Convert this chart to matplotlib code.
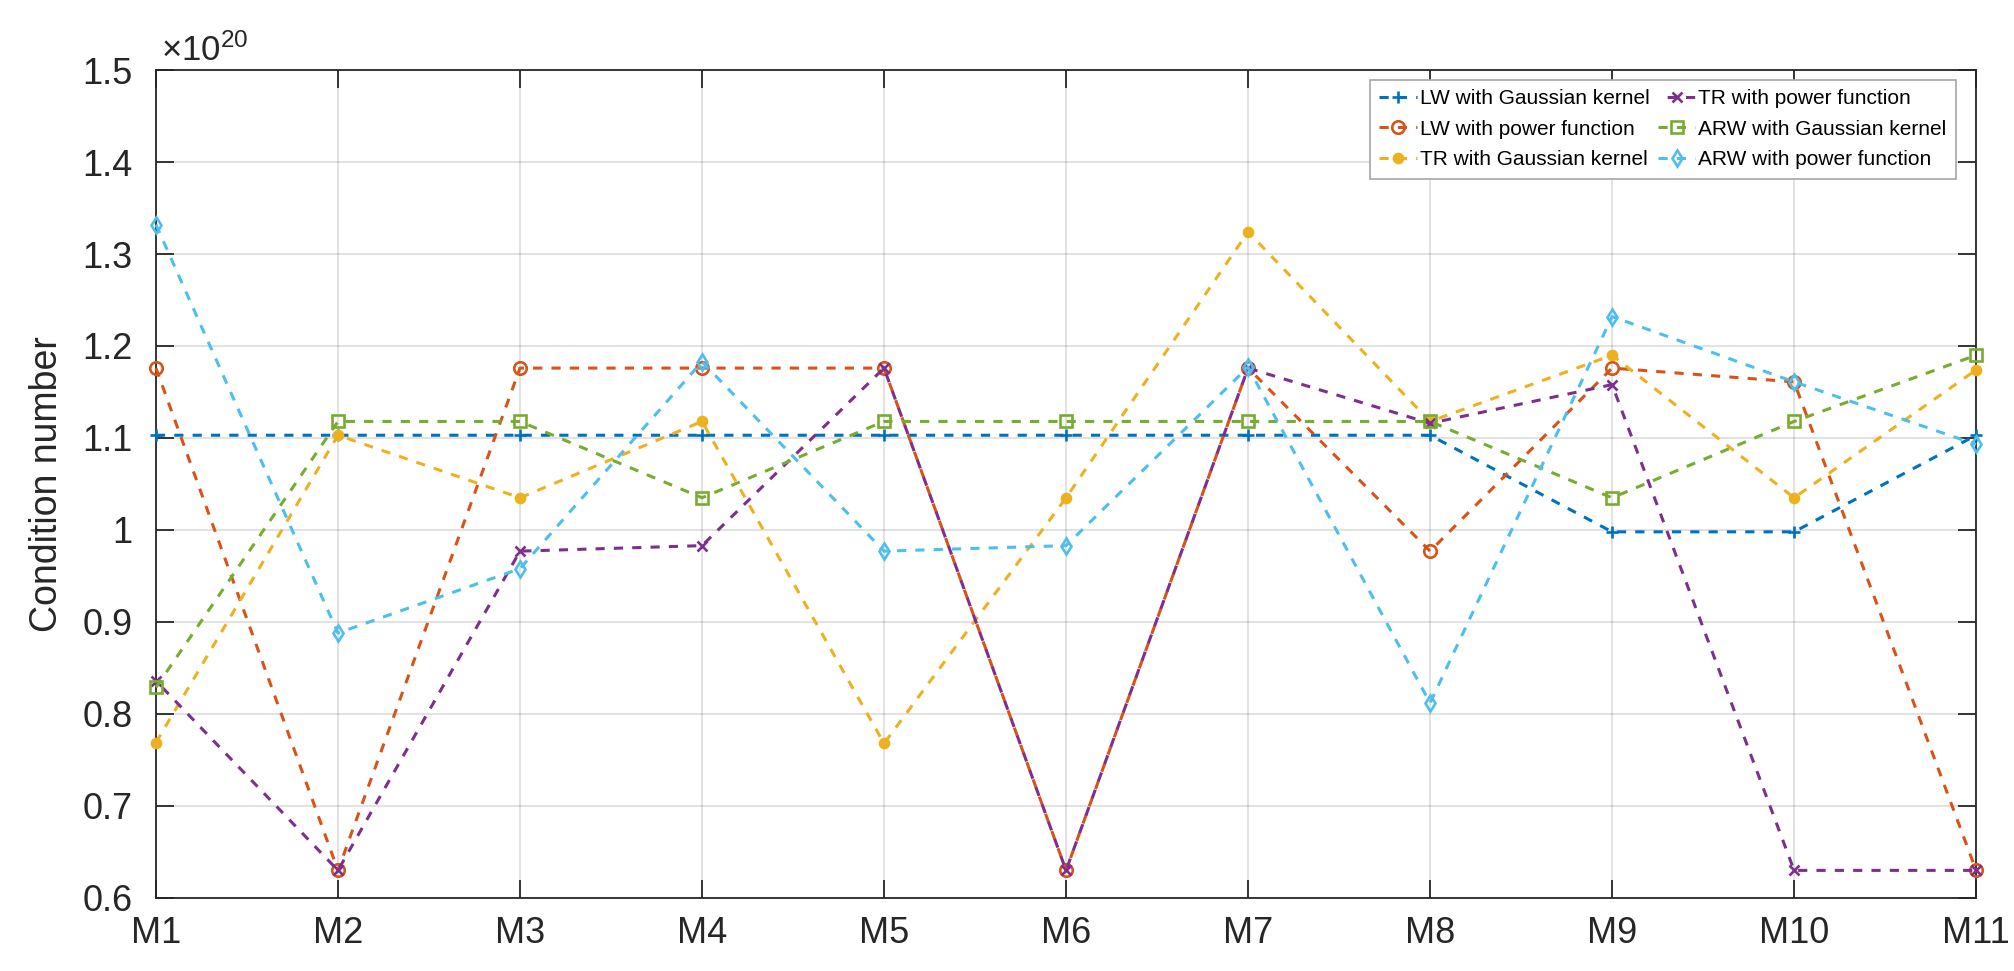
import matplotlib
matplotlib.use("Agg")
import matplotlib.pyplot as plt
import numpy as np

# ---------------- data (values in units of 1e20) ----------------
categories = ["M1", "M2", "M3", "M4", "M5", "M6", "M7", "M8", "M9", "M10", "M11"]
scale_exponent = 20
lw_gaussian = [1.103, 1.103, 1.103, 1.103, 1.103, 1.103, 1.103, 1.103, 0.998, 0.998, 1.103]
lw_power = [1.176, 0.630, 1.176, 1.176, 1.176, 0.630, 1.176, 0.977, 1.176, 1.161, 0.630]
tr_gaussian = [0.769, 1.103, 1.035, 1.118, 0.768, 1.035, 1.324, 1.118, 1.190, 1.035, 1.174]
tr_power = [0.836, 0.630, 0.977, 0.983, 1.176, 0.630, 1.176, 1.116, 1.158, 0.630, 0.630]
arw_gaussian = [0.829, 1.118, 1.118, 1.035, 1.118, 1.118, 1.118, 1.118, 1.035, 1.118, 1.190]
arw_power = [1.332, 0.888, 0.958, 1.183, 0.977, 0.983, 1.177, 0.812, 1.232, 1.161, 1.093]
series_labels = ["LW with Gaussian kernel", "LW with power function",
                 "TR with Gaussian kernel", "TR with power function",
                 "ARW with Gaussian kernel", "ARW with power function"]
y_ticks = [0.6, 0.7, 0.8, 0.9, 1.0, 1.1, 1.2, 1.3, 1.4, 1.5]
y_label = "Condition number"

# ---------------- style ----------------
plt.rcParams['font.family'] = ['Liberation Sans', 'DejaVu Sans']
plt.rcParams['mathtext.fontset'] = 'custom'
plt.rcParams['mathtext.rm'] = 'Liberation Sans'
plt.rcParams['mathtext.it'] = 'Liberation Sans'

axc = (0.15, 0.15, 0.15)
colors = ["#0072BD", "#D95319", "#EDB120", "#7E2F8E", "#77AC30", "#4DBEEE"]
markers = ["+", "o", "o", "x", "s", "d"]
filled = [True, False, True, True, False, False]
msizes = [9, 9, 6.5, 7, 8, 8.5]
dash_offsets = [0, 0, 0, 3.0, 0, 0]

fig = plt.figure(figsize=(20.15, 9.71), dpi=100)
ax = fig.add_axes([0.0774, 0.0752, 0.9033, 0.8527])

x = np.arange(len(categories))
all_series = [lw_gaussian, lw_power, tr_gaussian, tr_power, arw_gaussian, arw_power]
for vals, lab, c, m, f, ms, off in zip(all_series, series_labels, colors, markers,
                                       filled, msizes, dash_offsets):
    ax.plot(x, vals, linestyle=(off, (3.0, 3.0)), color=c, lw=2.2, marker=m,
            markersize=ms, markeredgewidth=1.9,
            markerfacecolor=c if f else 'none', markeredgecolor=c,
            label=lab, clip_on=False, zorder=3)

ax.set_xlim(0, len(categories) - 1)
ax.set_ylim(0.6, 1.5)
ax.set_xticks(x)
ax.set_xticklabels(categories)
ax.set_yticks(y_ticks)
ax.set_yticklabels(["%g" % v for v in y_ticks])

ax.grid(True, color=axc, alpha=0.13, lw=1.5)
ax.set_axisbelow(True)
for s in ax.spines.values():
    s.set_color(axc)
    s.set_linewidth(1.3)
ax.tick_params(axis='both', direction='in', length=13, width=1.3, color=axc,
               labelcolor=axc, labelsize=26, top=True, right=True)
ax.tick_params(axis='x', pad=13)
ax.tick_params(axis='y', pad=17)

ax.set_ylabel(y_label, fontsize=27, color=axc, labelpad=12)

ax.text(0.003, 1.003, r"$\times10^{%d}$" % scale_exponent, transform=ax.transAxes,
        fontsize=25, color=axc, ha='left', va='bottom')

leg = ax.legend(loc='upper right', bbox_to_anchor=(0.989, 0.988), ncol=2,
                fontsize=15, frameon=True, fancybox=False, edgecolor='0.65',
                framealpha=1, borderaxespad=0, handlelength=1.8, handletextpad=0.15,
                columnspacing=0.4, labelspacing=0.55, borderpad=0.45)
leg.get_frame().set_linewidth(1.2)

fig.savefig("out.png", dpi=100)
